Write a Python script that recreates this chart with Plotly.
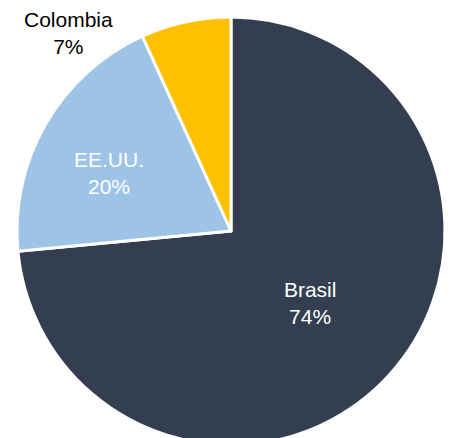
import plotly.graph_objects as go

labels = ["Brasil", "EE.UU.", "Colombia"]
values = [73.5, 19.7, 6.8]
pct_labels = ["74%", "20%", "7%"]
colors = ["#333F50", "#9DC3E6", "#FFC000"]
text_colors = ["white", "white", "black"]

W, H = 451, 452
cx, cy, r = 231, 231, 214  # pie centre/radius in pixels (top-left origin)

slice_text = [f"{l}<br>{p}" for l, p in zip(labels, pct_labels)]
FONT = "Liberation Sans, Arial, sans-serif"

fig = go.Figure(
    go.Pie(
        labels=labels,
        values=values,
        sort=False,
        direction="clockwise",
        rotation=0,
        marker=dict(colors=colors, line=dict(color="white", width=3)),
        text=[slice_text[0], "", ""],
        textinfo="text",
        textposition="inside",
        insidetextorientation="horizontal",
        insidetextfont=dict(color="white", size=21, family=FONT),
        hoverinfo="label+percent",
        domain=dict(x=[(cx - r) / W, (cx + r) / W], y=[(H - cy - r) / H, (H - cy + r) / H]),
    )
)

# labels for the two smaller slices
label_pos = {1: (109, 173), 2: (68, 33)}
for i, (px, py) in label_pos.items():
    fig.add_annotation(
        x=px / W, y=1 - py / H, xref="paper", yref="paper",
        xanchor="center", yanchor="middle",
        text=slice_text[i], showarrow=False,
        font=dict(size=21, color=text_colors[i], family=FONT),
    )

fig.update_layout(
    width=W, height=H,
    margin=dict(l=0, r=0, t=0, b=0),
    showlegend=False,
    paper_bgcolor="white",
    plot_bgcolor="white",
)

fig.write_html(
    "out.html",
    config={"displayModeBar": False},
    post_script="document.body.style.margin='0';document.body.style.overflow='hidden';document.documentElement.style.overflow='hidden';",
)
